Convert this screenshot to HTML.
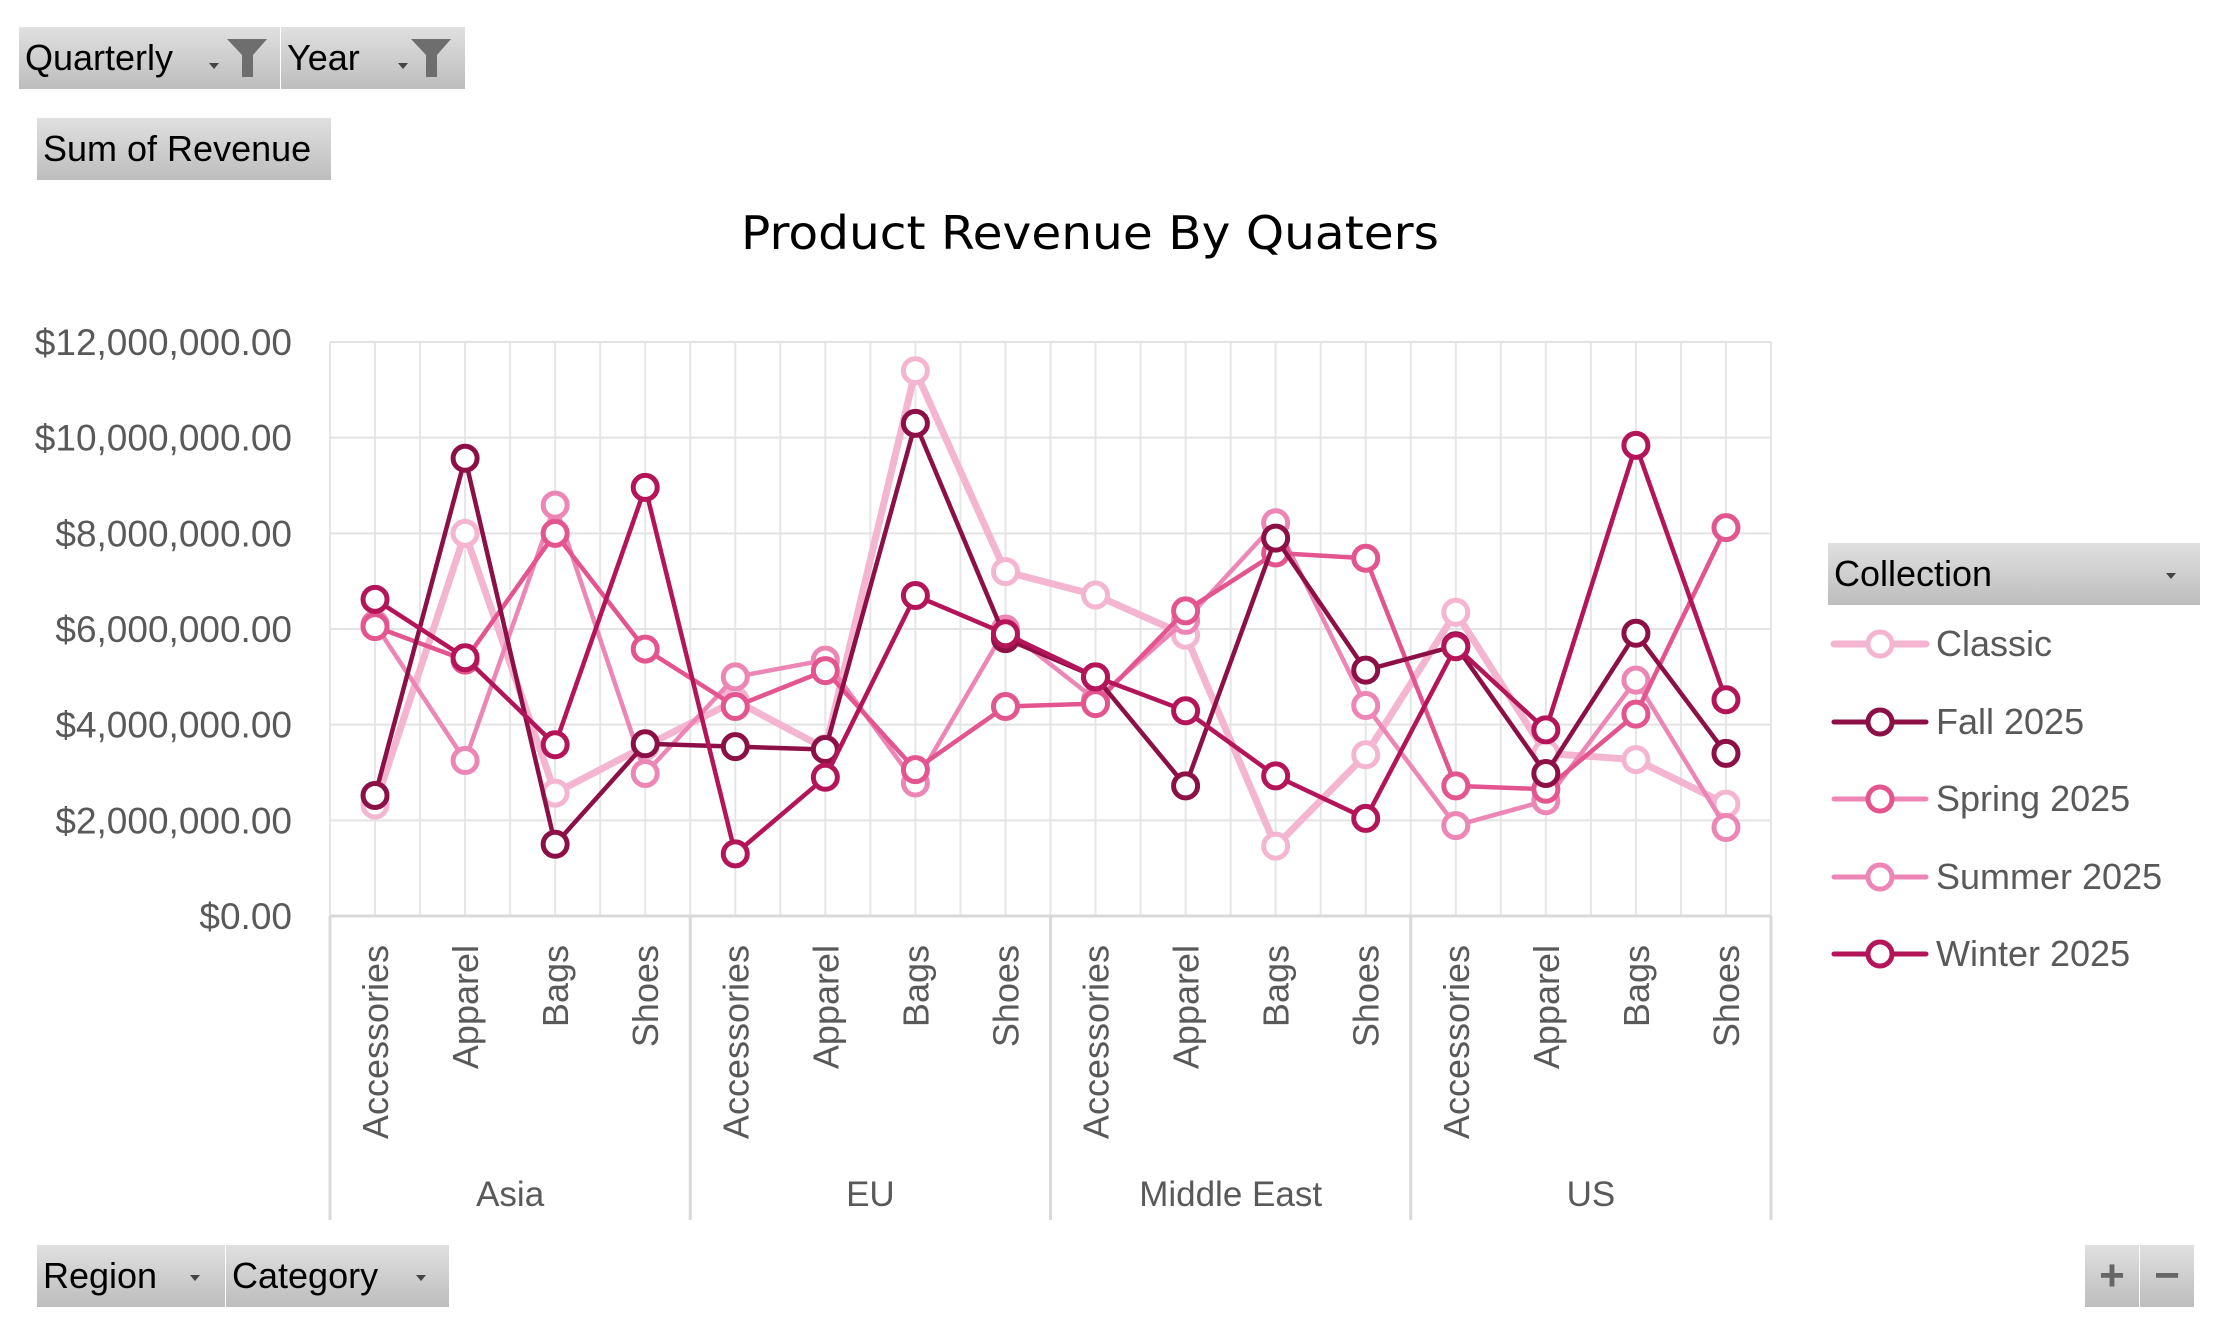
<!DOCTYPE html>
<html><head><meta charset="utf-8">
<style>
html,body{margin:0;padding:0;background:#fff;width:2230px;height:1335px;overflow:hidden;font-family:"Liberation Sans",sans-serif;}
.btn{position:absolute;background:linear-gradient(#e0e0e0,#bdbdbd);color:#000;font-size:36px;line-height:62px;height:62px;box-sizing:border-box;padding-left:6px;white-space:nowrap;}
.arrow{position:absolute;width:0;height:0;border-left:5px solid transparent;border-right:5px solid transparent;border-top:6px solid #444;}
</style></head><body>
<div class="btn" style="left:19px;top:27px;width:261px;">Quarterly
 <span class="arrow" style="left:190px;top:36px"></span>
 <svg style="position:absolute;left:206px;top:10px" width="44" height="42"><path d="M2 2 H42 L28 18 V40 H17 V18 Z" fill="#6e6e6e"/></svg></div>
<div class="btn" style="left:281px;top:27px;width:184px;">Year
 <span class="arrow" style="left:117px;top:36px"></span>
 <svg style="position:absolute;left:128px;top:10px" width="44" height="42"><path d="M2 2 H42 L28 18 V40 H17 V18 Z" fill="#6e6e6e"/></svg></div>
<div class="btn" style="left:37px;top:118px;width:294px;">Sum of Revenue</div>
<div class="btn" style="left:1828px;top:543px;width:372px;">Collection<span class="arrow" style="left:338px;top:30px"></span></div>
<div class="btn" style="left:37px;top:1245px;width:188px;">Region<span class="arrow" style="left:153px;top:30px"></span></div>
<div class="btn" style="left:226px;top:1245px;width:223px;">Category<span class="arrow" style="left:190px;top:30px"></span></div>
<div class="btn" style="left:2085px;top:1245px;width:54px;padding:0;text-align:center;color:#666;font-size:44px;font-weight:bold;">+</div>
<div class="btn" style="left:2140px;top:1245px;width:54px;padding:0;text-align:center;color:#666;font-size:44px;font-weight:bold;">−</div>

<svg id="chart" width="2230" height="1335" style="position:absolute;left:0;top:0" xmlns="http://www.w3.org/2000/svg">
<text x="1090" y="249" text-anchor="middle" font-family="DejaVu Sans, sans-serif" font-size="46" fill="#000" textLength="698" lengthAdjust="spacingAndGlyphs">Product Revenue By Quaters</text>
</svg>
<script>
const regions = ["Asia","EU","Middle East","US"];
const categories = ["Accessories","Apparel","Bags","Shoes"];
const yTicks = [0,2,4,6,8,10,12];
const yTickLabels = ["$0.00","$2,000,000.00","$4,000,000.00","$6,000,000.00","$8,000,000.00","$10,000,000.00","$12,000,000.00"];
const seriesNames = ["Classic","Fall 2025","Spring 2025","Summer 2025","Winter 2025"];
const classic = [2.32,8.0,2.57,3.55, 4.5,3.5,11.4,7.2, 6.71,5.87,1.46,3.37, 6.35,3.4,3.27,2.34];
const fall2025 = [2.52,9.57,1.5,3.6, 3.54,3.48,10.3,5.8, 5.0,2.72,7.9,5.14, 5.65,2.98,5.91,3.4];
const spring2025 = [6.05,5.35,8.0,5.58, 4.38,5.13,3.06,4.38, 4.44,6.38,7.59,7.48, 2.72,2.65,4.22,8.12];
const summer2025 = [6.1,3.25,8.59,2.98, 5.0,5.35,2.78,6.0, 4.52,6.18,8.22,4.4, 1.89,2.41,4.93,1.85];
const winter2025 = [6.62,5.4,3.58,8.96, 1.3,2.9,6.7,5.9, 5.0,4.29,2.93,2.04, 5.63,3.89,9.84,4.52];

const NS="http://www.w3.org/2000/svg";
const svg=document.getElementById('chart');
const L=330,R=1771,T=342,B=916,YMAX=12;
const N=regions.length*categories.length;
const bw=(R-L)/N;
function xPos(i){return L+bw*(i+0.5);}
function yPos(v){return B-(v/YMAX)*(B-T);}
function mk(tag,attrs){const e=document.createElementNS(NS,tag);for(const k in attrs)e.setAttribute(k,attrs[k]);svg.appendChild(e);return e;}

for(let i=0;i<=N*2;i++){
  const x=L+bw/2*i;
  const g=mk('line',{x1:x,x2:x,y1:T,y2:B,stroke:'#e6e6e6','stroke-width':2});
  
  
}
yTicks.forEach((t,i)=>{
  const y=yPos(t);
  const g=mk('line',{x1:L,x2:R,y1:y,y2:y,stroke:'#e3e3e3','stroke-width':2});
  
  
  const tx=mk('text',{x:292,y:y+13,'text-anchor':'end','font-size':37,fill:'#595959','font-family':'Liberation Sans, sans-serif'});
  tx.textContent=yTickLabels[i];
  
  
});
const ax=mk('line',{x1:L,x2:R,y1:B,y2:B,stroke:'#d9d9d9','stroke-width':3});


for(let r=0;r<=regions.length;r++){
  const x=L+bw*categories.length*r;
  const s=mk('line',{x1:x,x2:x,y1:B,y2:1220,stroke:'#d9d9d9','stroke-width':3});
  
  
}
regions.forEach((rg,r)=>{
  categories.forEach((c,ci)=>{
    const i=r*categories.length+ci;
    const x=xPos(i);
    const t=mk('text',{x:0,y:0,transform:`translate(${x+13},945) rotate(-90)`,'text-anchor':'end','font-size':36,fill:'#595959','font-family':'Liberation Sans, sans-serif'});
    t.textContent=c;
    
    
  });
  const cx=L+bw*categories.length*(r+0.5);
  const t=mk('text',{x:cx,y:1206,'text-anchor':'middle','font-size':35,fill:'#595959','font-family':'Liberation Sans, sans-serif'});
  t.textContent=rg;
  
  
});

const allSeries=[classic,fall2025,spring2025,summer2025,winter2025];
const colors=['#f4b5d0','#8c1046','#e3558f','#ec86b5','#b31558'];
const widths=[7,4.5,4.5,4.5,4.5];
const order=[0,3,2,1,4];
order.forEach(si=>{
  const vals=allSeries[si];
  const pts=vals.map((v,i)=>xPos(i)+','+yPos(v)).join(' ');
  const pl=mk('polyline',{points:pts,fill:'none',stroke:colors[si],'stroke-width':widths[si],'stroke-linejoin':'round'});
  
  
  vals.forEach((v,i)=>{
    const c=mk('circle',{cx:xPos(i),cy:yPos(v),r:12,fill:'#fff',stroke:colors[si],'stroke-width':5});
    
    
  });
});
const legY=[644,722,799,877,954];
seriesNames.forEach((n,si)=>{
  const y=legY[si];
  const l=mk('line',{x1:1834,x2:1926,y1:y,y2:y,stroke:si===2||si===3?'#ec86b5':colors[si],'stroke-width':si===0?7:5,'stroke-linecap':'round'});
  
  
  const c=mk('circle',{cx:1880,cy:y,r:12,fill:'#fff',stroke:colors[si],'stroke-width':5});
  
  
  const t=mk('text',{x:1936,y:y+12,'font-size':36,fill:'#595959','font-family':'Liberation Sans, sans-serif'});
  t.textContent=n;
  
  
});
</script>
</body></html>
